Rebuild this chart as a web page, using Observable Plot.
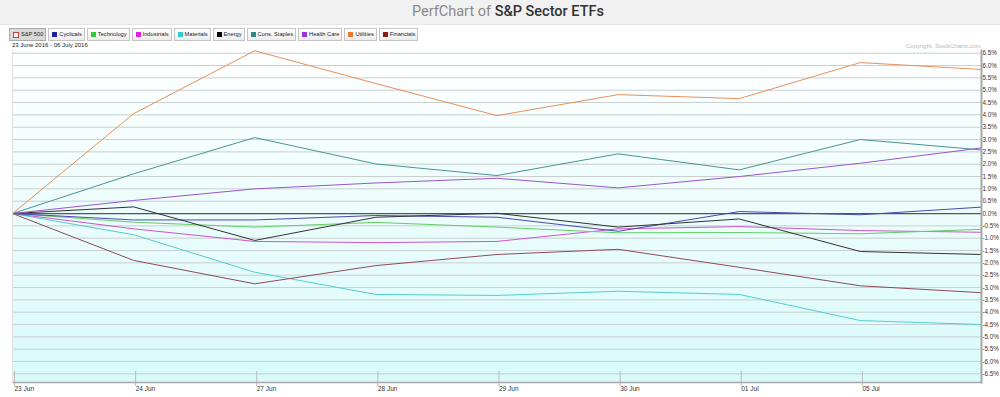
<!DOCTYPE html>
<html>
<head>
<meta charset="utf-8">
<script src="https://cdn.jsdelivr.net/npm/d3@7"></script>
<script src="https://cdn.jsdelivr.net/npm/@observablehq/plot@0.6"></script>
<style>
  html, body { margin: 0; padding: 0; background: #fff; width: 1000px; height: 397px; overflow: hidden; }
  body { position: relative; font-family: "Liberation Sans", Arial, sans-serif; }
  #header { position: absolute; left: 0; top: 0; width: 1000px; height: 24px; background: #f1f1f1; border-bottom: 1px solid #e6e6e6; }
  #title { position: absolute; left: 412px; top: 3px; font-family: Roboto, "Open Sans", sans-serif; font-size: 14.5px; color: #8a8a8a; white-space: nowrap; }
  #title b { font-weight: 500; color: #333; }
  #legend { position: absolute; left: 9px; top: 28px; display: flex; gap: 2px; }
  .btn { height: 11px; border: 1px solid #c4c4c4; background: linear-gradient(#ffffff, #ececec); font-size: 5.7px; line-height: 11px; color: #222; padding: 0 2px 0 3px; display: flex; align-items: center; gap: 2px; white-space: nowrap; }
  .btn.sel { background: #d9d9d9; border-color: #aaa; }
  .sw { width: 5px; height: 5px; display: inline-block; }
  #range { position: absolute; left: 12px; top: 42px; font-size: 6px; color: #222; }
  #copy { position: absolute; left: 906px; top: 43px; font-size: 6px; color: #b8b8b8; }
  #chart { position: absolute; left: 0; top: 42px; }
</style>
</head>
<body>
<div id="header"><div id="title">PerfChart of <b>S&amp;P Sector ETFs</b></div></div>
<div id="legend"></div>
<div id="chart"></div>
<div id="range">23 June 2016 - 06 July 2016</div>
<div id="copy">Copyright, StockCharts.com</div>
<script>
const dates = ["23 Jun","24 Jun","27 Jun","28 Jun","29 Jun","30 Jun","01 Jul","05 Jul","06 Jul"];
const seriesNames = ["S&P 500","Cyclicals","Technology","Industrials","Materials","Energy","Cons. Staples","Health Care","Utilities","Financials"];
const seriesColors = ["#cc4444","#2020a0","#33cc33","#dd22dd","#33cccc","#000000","#2a8a8a","#9933dd","#ee7733","#8b1a1a"];
const lineColors  = ["#555555","#4a4ab0","#66cc66","#cc55cc","#55cccc","#333333","#4a9494","#9a55d0","#e8905a","#8e4a58"];

const sp500       = [0, 0, 0, 0, 0, 0, 0, 0, 0];
const cyclicals   = [0, -0.26, -0.26, -0.08, -0.15, -0.72, 0.08, -0.05, 0.26];
const technology  = [0, -0.35, -0.55, -0.36, -0.55, -0.78, -0.77, -0.82, -0.64];
const industrials = [0, -0.62, -1.13, -1.18, -1.13, -0.62, -0.53, -0.69, -0.76];
const materials   = [0, -0.86, -2.38, -3.28, -3.32, -3.15, -3.28, -4.34, -4.50];
const energy      = [0, 0.27, -1.09, -0.15, 0.01, -0.55, -0.22, -1.54, -1.66];
const consStaples = [0, 1.61, 3.08, 2.01, 1.54, 2.42, 1.77, 3.00, 2.58];
const healthCare  = [0, 0.53, 1.00, 1.24, 1.43, 1.04, 1.50, 2.04, 2.66];
const utilities   = [0, 4.05, 6.60, 5.27, 3.97, 4.82, 4.66, 6.12, 5.84];
const financials  = [0, -1.90, -2.85, -2.11, -1.66, -1.45, -2.18, -2.93, -3.21];

const yTicks = ["6.5","6.0","5.5","5.0","4.5","4.0","3.5","3.0","2.5","2.0","1.5","1.0","0.5","0.0","-0.5","-1.0","-1.5","-2.0","-2.5","-3.0","-3.5","-4.0","-4.5","-5.0","-5.5","-6.0","-6.5"];

// Legend
const legend = document.getElementById("legend");
seriesNames.forEach((n, i) => {
  const b = document.createElement("div");
  b.className = "btn" + (i === 0 ? " sel" : "");
  const s = document.createElement("span");
  s.className = "sw";
  if (i === 0) { s.style.border = "1px solid " + seriesColors[0]; s.style.background = "#f4f4f4"; s.style.width = "4px"; s.style.height = "4px"; }
  else s.style.background = seriesColors[i];
  b.appendChild(s);
  b.appendChild(document.createTextNode(n));
  legend.appendChild(b);
});

const allSeries = [sp500, cyclicals, technology, industrials, materials, energy, consStaples, healthCare, utilities, financials];
const drawOrder = [0, 4, 9, 3, 2, 1, 5, 6, 7, 8];
const rows = [];
drawOrder.forEach(si => allSeries[si].forEach((v, i) => rows.push({s: seriesNames[si], i, v})));

const yVals = yTicks.map(Number);
const gridVals = yVals.filter(v => v !== 0);

const plot = Plot.plot({
  width: 1000,
  height: 355,
  marginTop: 8,
  marginBottom: 15,
  marginLeft: 12,
  marginRight: 19,
  style: {fontFamily: "Liberation Sans, Arial, sans-serif", fontSize: "6.5px", color: "#333", background: "transparent"},
  x: {domain: [0, dates.length - 1], axis: null, label: null},
  y: {domain: [-6.85, 6.61], axis: null, label: null},
  color: {domain: seriesNames, range: lineColors},
  marks: [
    Plot.frame({fill: "url(#bgGrad)", stroke: null}),
    Plot.ruleY(gridVals, {stroke: "#c9cfcf", strokeWidth: 1}),
    Plot.ruleY([0], {stroke: "#555", strokeWidth: 1.2}),
    Plot.line(rows.filter(d => d.s !== "S&P 500"), {x: "i", y: "v", z: "s", stroke: "s", strokeWidth: 1, curve: "linear"}),
    Plot.axisX({ticks: d3.range(0, dates.length - 1), tickFormat: i => dates[i], label: null, tickSize: 15, tickPadding: 0, textAnchor: "start", dx: 2, dy: -11, stroke: "#bbb", fill: "#333", fontSize: 6.5}),
    Plot.axisY({anchor: "right", ticks: yVals, tickFormat: v => yTicks[yVals.indexOf(v)] + "%", label: null, tickSize: 0, tickPadding: 1, textAnchor: "start", fill: "#333", fontSize: 6.3}),
    Plot.frame({anchor: "right", stroke: "#a8a8a8", strokeWidth: 2}),
    Plot.frame({anchor: "bottom", stroke: "#a8a8a8", strokeWidth: 1.5}),
    Plot.frame({anchor: "left", stroke: "#e0e0e0", strokeWidth: 1})
  ]
});

const svg = d3.select(plot);
const defs = svg.insert("defs", ":first-child");
const g = defs.append("linearGradient").attr("id", "bgGrad").attr("x1", 0).attr("y1", 0).attr("x2", 0).attr("y2", 1);
g.append("stop").attr("offset", "0%").attr("stop-color", "#ffffff");
g.append("stop").attr("offset", "100%").attr("stop-color", "#d8fafa");

document.getElementById("chart").appendChild(plot);
</script>
</body>
</html>
